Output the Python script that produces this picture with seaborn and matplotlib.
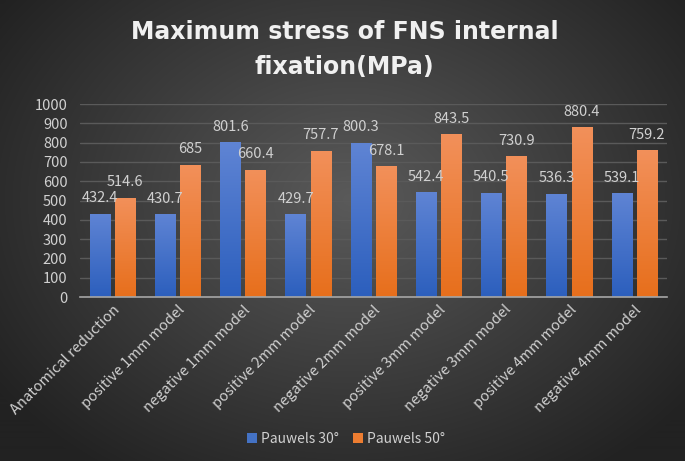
import numpy as np
import pandas as pd
import seaborn as sns
import matplotlib.pyplot as plt
from matplotlib.patches import Patch

# ── данные ────────────────────────────────────────────────────────────────
models = ["Anatomical reduction", "positive 1mm model", "negative 1mm model",
          "positive 2mm model", "negative 2mm model", "positive 3mm model",
          "negative 3mm model", "positive 4mm model", "negative 4mm model"]
pauwels30 = [432.4, 430.7, 801.6, 429.7, 800.3, 542.4, 540.5, 536.3, 539.1]
pauwels50 = [514.6, 685, 660.4, 757.7, 678.1, 843.5, 730.9, 880.4, 759.2]
labels30 = ["432.4", "430.7", "801.6", "429.7", "800.3", "542.4", "540.5", "536.3", "539.1"]
labels50 = ["514.6", "685", "660.4", "757.7", "678.1", "843.5", "730.9", "880.4", "759.2"]
series = ["Pauwels 30°", "Pauwels 50°"]

df = pd.DataFrame({
    "model": models * 2,
    "value": pauwels30 + pauwels50,
    "series": [series[0]] * len(models) + [series[1]] * len(models),
})

sns.set_theme(style="dark")
plt.rcParams["font.family"] = ["Noto Sans CJK SC", "DejaVu Sans"]

fig = plt.figure(figsize=(6.85, 4.61), dpi=100)

# ── фон: радиальный градиент ─────────────────────────────────────────────
bg = fig.add_axes([0, 0, 1, 1], zorder=-10)
yy, xx = np.mgrid[0:461, 0:685]
r = np.sqrt(((xx - 350) / 430.0) ** 2 + ((yy - 200) / 330.0) ** 2)
r = np.clip(r, 0, 1)
c0, c1 = np.array([0x5a, 0x5a, 0x5a]) / 255, np.array([0x22, 0x22, 0x22]) / 255
img = c0[None, None, :] * (1 - r[..., None]) + c1[None, None, :] * r[..., None]
bg.imshow(img, aspect="auto", extent=[0, 1, 0, 1])
bg.axis("off")

ax = fig.add_axes([0.1168, 0.3557, 0.8569, 0.4187])
ax.set_facecolor("none")

colors = {series[0]: "#4472c4", series[1]: "#ed7d31"}
sns.barplot(data=df, x="model", y="value", hue="series", palette=colors,
            width=0.772, gap=0.19, ax=ax, legend=False, saturation=1)

# градиентная заливка столбиков
grads = {series[0]: ("#5f84d4", "#2c5fbd"), series[1]: ("#f2905a", "#e76f1c")}
for cont, s in zip(ax.containers, series):
    top, bot = [np.array(plt.matplotlib.colors.to_rgb(c)) for c in grads[s]]
    g = np.linspace(0, 1, 64)[:, None, None]
    grad = top[None, None, :] * (1 - g) + bot[None, None, :] * g
    for bar in cont:
        x0, y0 = bar.get_x(), bar.get_y()
        w, h = bar.get_width(), bar.get_height()
        bar.set_facecolor("none")
        bar.set_edgecolor("none")
        im = ax.imshow(grad, aspect="auto", extent=[x0, x0 + w, y0, y0 + h],
                       zorder=2)
        im.set_clip_path(bar)

for cont, lbls in zip(ax.containers, [labels30, labels50]):
    ax.bar_label(cont, labels=lbls, padding=6, color="#d0d0d0", fontsize=10.5)

ax.set_xlim(-0.5, len(models) - 0.5)
ax.set_ylim(0, 1000)
ax.set_yticks(range(0, 1001, 100))
ax.yaxis.grid(True, color="#5a5a5a", linewidth=1)
ax.xaxis.grid(False)
ax.set_axisbelow(True)
for sp in ["top", "right", "left"]:
    ax.spines[sp].set_visible(False)
ax.spines["bottom"].set_color("#a6a6a6")
ax.spines["bottom"].set_linewidth(1.2)
ax.tick_params(axis="y", length=0, pad=9, labelcolor="#d0d0d0", labelsize=10.5)
ax.tick_params(axis="x", length=0, pad=4, labelcolor="#d0d0d0", labelsize=10.5)
ax.set_xticks(range(len(models)))
ax.set_xticklabels(models, rotation=45, ha="right", rotation_mode="anchor")
ax.set_xlabel("")
ax.set_ylabel("")

fig.text(0.503, 0.893, "Maximum stress of FNS internal\nfixation(MPa)",
         ha="center", va="center", color="#f0f0f0", fontsize=17,
         family=["DejaVu Sans"], fontweight="bold",
         linespacing=1.55)

handles = [Patch(facecolor=colors[s], edgecolor="none") for s in series]
fig.legend(handles, series, loc="center", bbox_to_anchor=(0.505, 0.048),
           ncol=2, frameon=False, labelcolor="#d0d0d0", fontsize=10,
           handlelength=0.7, handleheight=0.7, handletextpad=0.3,
           columnspacing=1.0)

fig.savefig("out.png", dpi=100)
